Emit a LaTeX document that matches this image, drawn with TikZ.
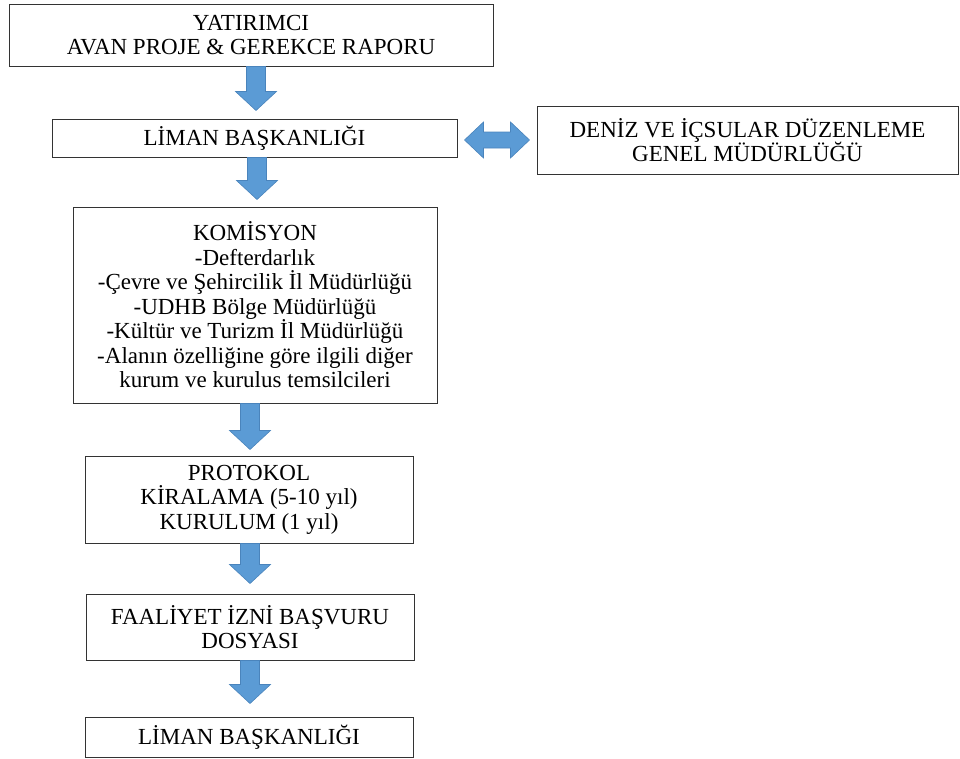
\documentclass[tikz,border=0pt]{standalone}
\usepackage{fontspec}
\setmainfont{Liberation Serif}
\usetikzlibrary{calc}
\definecolor{arrfill}{HTML}{5B9BD5}
\definecolor{arrline}{HTML}{4A84BC}
\definecolor{boxline}{HTML}{333333}
\tikzset{
  box/.style={draw=boxline, line width=1pt, fill=white, align=center, inner sep=0pt,
    font=\fontsize{23}{24.5}\selectfont},
  blk/.style={fill=arrfill, draw=arrline, line width=0.6pt, line join=miter}
}
% vertical block arrow: #1 start anchor, #2 end anchor, #3 x (px), #4 gap before end
\newcommand\VArrow[4]{%
  \draw[blk] let \p1=(#1), \p2=(#2) in
    (#3pt-9.5pt,\y1) -- (#3pt+9.5pt,\y1) -- (#3pt+9.5pt,\y2+#4pt+19pt)
    -- (#3pt+20.5pt,\y2+#4pt+19pt) -- (#3pt,\y2+#4pt) -- (#3pt-20.5pt,\y2+#4pt+19pt)
    -- (#3pt-9.5pt,\y2+#4pt+19pt) -- cycle;}
\begin{document}
\begin{tikzpicture}[x=1pt,y=-1pt]
\useasboundingbox (0,0) rectangle (960,758);
\node[box, minimum width=484pt, minimum height=62pt] (top) at (251,35)
  {YATIRIMCI\\AVAN PROJE \& GEREKCE RAPORU};
\node[box, minimum width=405pt, minimum height=38pt] (lim1) at (254.5,138)
  {LİMAN BAŞKANLIĞI};
\node[box, minimum width=421pt, minimum height=68pt] (dz) at (747.5,140)
  {DENİZ VE İÇSULAR DÜZENLEME\\GENEL MÜDÜRLÜĞÜ};
\node[box, minimum width=364pt, minimum height=196pt] (kom) at (255,305)
  {KOMİSYON\\-Defterdarlık\\-Çevre ve Şehircilik İl Müdürlüğü\\-UDHB Bölge Müdürlüğü\\-Kültür ve Turizm İl Müdürlüğü\\-Alanın özelliğine göre ilgili diğer\\kurum ve kurulus temsilcileri};
\node[box, minimum width=328pt, minimum height=87pt] (pro) at (249,499.5)
  {PROTOKOL\\KİRALAMA (5-10 yıl)\\KURULUM (1 yıl)};
\node[box, minimum width=328pt, minimum height=66pt] (fa) at (250,627)
  {FAALİYET İZNİ BAŞVURU\\DOSYASI};
\node[box, minimum width=328pt, minimum height=40pt] (lim2) at (249,737)
  {LİMAN BAŞKANLIĞI};
\VArrow{top.south}{lim1.north}{256}{8}
\VArrow{lim1.south}{kom.north}{257}{7}
\VArrow{kom.south}{pro.north}{250}{6}
\VArrow{pro.south}{fa.north}{250}{10}
\VArrow{fa.south}{lim2.north}{250}{13}
% double arrow
\draw[blk] let \p1=(lim1.east), \p2=(dz.west) in
  (\x1+7pt,-140pt) -- (\x1+26pt,-122pt) -- (\x1+26pt,-132pt) -- (\x2-26pt,-132pt)
  -- (\x2-26pt,-122pt) -- (\x2-7pt,-140pt) -- (\x2-26pt,-158pt) -- (\x2-26pt,-148pt)
  -- (\x1+26pt,-148pt) -- (\x1+26pt,-158pt) -- cycle;
\end{tikzpicture}
\end{document}
